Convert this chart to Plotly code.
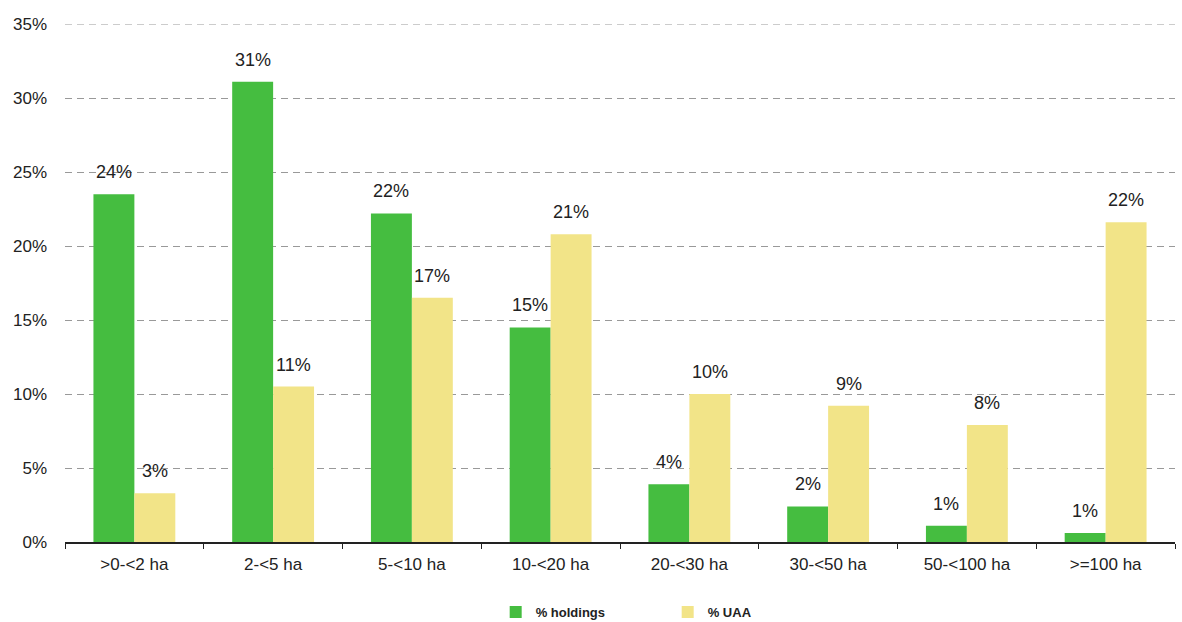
import plotly.graph_objects as go

categories = [">0-<2 ha", "2-<5 ha", "5-<10 ha", "10-<20 ha", "20-<30 ha", "30-<50 ha", "50-<100 ha", ">=100 ha"]
holdings = [23.5, 31.1, 22.2, 14.5, 3.9, 2.4, 1.1, 0.6]
uaa = [3.3, 10.5, 16.5, 20.8, 10.0, 9.2, 7.9, 21.6]
holdings_labels = ["24%", "31%", "22%", "15%", "4%", "2%", "1%", "1%"]
uaa_labels = ["3%", "11%", "17%", "21%", "10%", "9%", "8%", "22%"]
y_ticks = [0, 5, 10, 15, 20, 25, 30, 35]
y_tick_labels = ["0%", "5%", "10%", "15%", "20%", "25%", "30%", "35%"]
y_max = 35

font = "Liberation Sans, Arial, sans-serif"
label_font = dict(family=font, size=18, color="#222222")
grid_color = "#999999"
grid_dash = "7px,5px"

fig = go.Figure()
fig.add_trace(go.Bar(
    name="<b>% holdings</b>", x=categories, y=holdings,
    marker=dict(color="#45BD40", line=dict(width=0)),
))
fig.add_trace(go.Bar(
    name="<b>% UAA</b>", x=categories, y=uaa,
    marker=dict(color="#F2E488", line=dict(width=0)),
))

# value labels above each bar (offset left/right within the group)
for vals, labels, shift in ((holdings, holdings_labels, -20.5), (uaa, uaa_labels, 20.5)):
    for c, v, t in zip(categories, vals, labels):
        fig.add_annotation(
            x=c, y=v, text=t, showarrow=False, xref="x", yref="y",
            xshift=shift, yshift=10, yanchor="bottom", font=label_font,
        )

# top gridline at the range edge (plotly omits it)
fig.add_shape(type="line", xref="paper", yref="y", x0=0, x1=1, y0=y_max, y1=y_max,
              line=dict(color=grid_color, width=1.2, dash=grid_dash), layer="below")

fig.update_layout(
    width=1182, height=622,
    margin=dict(l=65, r=7, t=24, b=80, autoexpand=False),
    paper_bgcolor="white", plot_bgcolor="white",
    barmode="group", bargap=0.41, bargroupgap=0,
    font=dict(family=font, size=17, color="#222222"),
    showlegend=True,
    legend=dict(
        orientation="h", x=0.388, xanchor="left", y=-0.135, yanchor="middle",
        font=dict(family=font, size=13, color="#222222"),
        entrywidth=127, traceorder="normal",
    ),
    xaxis=dict(
        showline=True, linecolor="#222222", linewidth=1.5,
        ticks="outside", tickson="boundaries", ticklen=5, tickcolor="#222222",
        tickfont=dict(family=font, size=17), ticklabelstandoff=6,
        showgrid=False, automargin=False,
    ),
    yaxis=dict(
        range=[0, y_max], tickvals=y_ticks, ticktext=y_tick_labels,
        showgrid=True, gridcolor=grid_color, griddash=grid_dash, gridwidth=1.2,
        showline=False, zeroline=False, ticks="",
        tickfont=dict(family=font, size=17), ticklabelstandoff=17,
        automargin=False,
    ),
)

fig.write_html("out.html", config={"displayModeBar": False},
               post_script="document.body.style.margin='0';")
